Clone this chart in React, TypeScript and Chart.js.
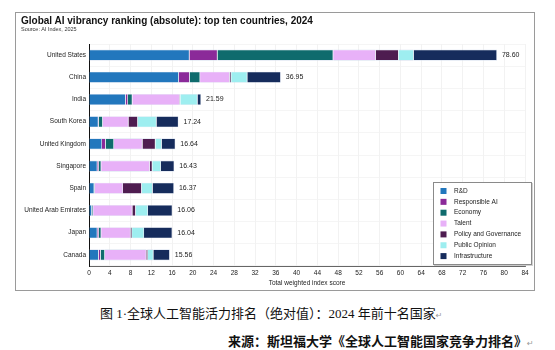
import React, { useEffect, useRef } from "react";
import { Chart, registerables } from "chart.js";
Chart.register(...registerables);

const countries = ["United States", "China", "India", "South Korea", "United Kingdom", "Singapore", "Spain", "United Arab Emirates", "Japan", "Canada"];
const totals = [78.6, 36.95, 21.59, 17.24, 16.64, 16.43, 16.37, 16.06, 16.04, 15.56];
const rnd = [19.35, 17.3, 7.05, 1.8, 2.5, 1.6, 1.0, 0.55, 1.6, 1.85];
const responsibleAI = [5.4, 2.1, 0.45, 0.1, 0.7, 0.3, 0.05, 0.05, 0.3, 0.4];
const economy = [22.3, 2.0, 0.85, 0.75, 1.6, 0.45, 0.1, 0.2, 0.45, 0.8];
const talent = [8.2, 5.7, 9.1, 4.95, 5.5, 9.35, 5.4, 7.55, 5.65, 8.0];
const policy = [4.4, 0.3, 0.15, 1.8, 2.5, 0.5, 3.6, 0.65, 0.3, 0.3];
const publicOpinion = [2.9, 3.1, 3.3, 3.6, 1.2, 1.65, 2.1, 2.35, 2.3, 1.05];
const infrastructure = [16.05, 6.45, 0.69, 4.24, 2.64, 2.58, 4.12, 4.71, 5.44, 3.16];
const seriesNames = ["R&D", "Responsible AI", "Economy", "Talent", "Policy and Governance", "Public Opinion", "Infrastructure"];
const seriesColors = ["#2277bd", "#8b2a99", "#0f6b6d", "#e8b1f8", "#4e1c50", "#9eeef0", "#162c5c"];
const xMin = 0;
const xMax = 84;
const xStep = 4;

const FONT = "'Liberation Sans', Arial, sans-serif";

const valueLabels = {
  id: "valueLabels",
  afterDatasetsDraw(chart: any) {
    const ctx = chart.ctx;
    const meta = chart.getDatasetMeta(chart.data.datasets.length - 1);
    ctx.save();
    ctx.font = `7px ${FONT}`;
    ctx.fillStyle = "#222";
    ctx.textBaseline = "middle";
    ctx.textAlign = "left";
    meta.data.forEach((bar: any, i: number) => {
      ctx.fillText(totals[i].toFixed(2), bar.x + 5, bar.y);
    });
    ctx.restore();
  },
};

const boxLegend = {
  id: "boxLegend",
  afterDraw(chart: any) {
    const ctx = chart.ctx;
    const area = chart.chartArea;
    const w = 98;
    const h = 82;
    const right = area.right + 6;
    const bottom = area.bottom - 2;
    const left = right - w;
    const top = bottom - h;
    ctx.save();
    ctx.fillStyle = "rgba(0,0,0,0.18)";
    ctx.fillRect(left + 1, top + 1, w + 1, h + 1);
    ctx.fillStyle = "#fff";
    ctx.fillRect(left, top, w, h);
    ctx.strokeStyle = "#8a8a8a";
    ctx.lineWidth = 1;
    ctx.strokeRect(left + 0.5, top + 0.5, w, h);
    ctx.font = `6.5px ${FONT}`;
    ctx.textBaseline = "middle";
    ctx.textAlign = "left";
    chart.data.datasets.forEach((ds: any, i: number) => {
      const y = top + 9 + i * 10.85;
      ctx.fillStyle = ds.backgroundColor;
      ctx.fillRect(left + 7.5, y - 3, 6, 6);
      ctx.fillStyle = "#222";
      ctx.fillText(ds.label, left + 21, y);
    });
    ctx.restore();
  },
};

function ChartBox() {
  const ref = useRef<HTMLCanvasElement>(null);
  useEffect(() => {
    if (!ref.current) return;
    const series = [rnd, responsibleAI, economy, talent, policy, publicOpinion, infrastructure];
    const chart = new Chart(ref.current, {
      type: "bar",
      data: {
        labels: countries,
        datasets: series.map((d, i) => ({
          label: seriesNames[i],
          data: d,
          backgroundColor: seriesColors[i],
          borderColor: "rgba(200,212,232,0.7)",
          borderWidth: 0.6,
          barPercentage: 0.5,
          categoryPercentage: 1,
        })),
      },
      options: {
        indexAxis: "y",
        animation: false,
        responsive: false,
        maintainAspectRatio: false,
        layout: { padding: { top: 31, right: 9, bottom: 0, left: 0 } },
        plugins: {
          legend: { display: false },
          tooltip: { enabled: false },
          title: { display: false },
        },
        scales: {
          x: {
            stacked: true,
            min: xMin,
            max: xMax,
            ticks: { stepSize: xStep, padding: 3, color: "#222", font: { family: FONT, size: 6.5 } },
            grid: { color: "#efefef", drawTicks: false, lineWidth: 0.8 },
            border: { color: "#666", width: 1 },
            title: {
              display: true,
              text: "Total weighted index score",
              color: "#222",
              font: { family: FONT, size: 6.5 },
              padding: { top: 0, bottom: 3 },
            },
            afterFit(scale: any) {
              scale.height = 24;
            },
          },
          y: {
            stacked: true,
            ticks: { padding: 3, color: "#222", font: { family: FONT, size: 6.5 } },
            grid: { color: "#f3f3f3", drawTicks: false, lineWidth: 0.8 },
            border: { color: "#111", width: 1 },
            afterFit(scale: any) {
              scale.width = 73;
            },
          },
        },
      },
      plugins: [valueLabels, boxLegend],
    } as any);
    return () => chart.destroy();
  }, []);
  return <canvas ref={ref} width={518} height={277} style={{ width: 518, height: 277, display: "block" }} />;
}

export default function App() {
  return (
    <div style={{ position: "fixed", left: 0, top: 0, width: 555, height: 350, background: "#fff", overflow: "hidden" }}>
      <div style={{ position: "absolute", left: 15, top: 12, width: 518, height: 277, border: "1px solid #9a9a9a" }}>
        <ChartBox />
        <div style={{ position: "absolute", left: 5, top: 2, font: `bold 10px ${FONT}`, lineHeight: "12px", color: "#111", whiteSpace: "nowrap" }}>
          Global AI vibrancy ranking (absolute): top ten countries, 2024
        </div>
        <div style={{ position: "absolute", left: 5, top: 13, font: `5.5px ${FONT}`, lineHeight: "6px", color: "#333", whiteSpace: "nowrap" }}>
          Source: AI Index, 2025
        </div>
      </div>
      <div style={{ position: "absolute", left: 100, top: 305, font: `13px 'Liberation Serif', 'Noto Sans CJK SC', serif`, lineHeight: "17px", color: "#111", whiteSpace: "nowrap" }}>
        图 1·全球人工智能活力排名（绝对值）：2024 年前十名国家<span style={{ color: "#999", fontSize: 8, fontFamily: "'DejaVu Sans'" }}>↵</span>
      </div>
      <div style={{ position: "absolute", left: 228, top: 333, font: `bold 13px 'Liberation Serif', 'Noto Sans CJK SC', serif`, lineHeight: "17px", color: "#111", whiteSpace: "nowrap" }}>
        来源：斯坦福大学《全球人工智能国家竞争力排名》<span style={{ color: "#999", fontSize: 8, fontWeight: "normal", fontFamily: "'DejaVu Sans'" }}>↵</span>
      </div>
    </div>
  );
}
